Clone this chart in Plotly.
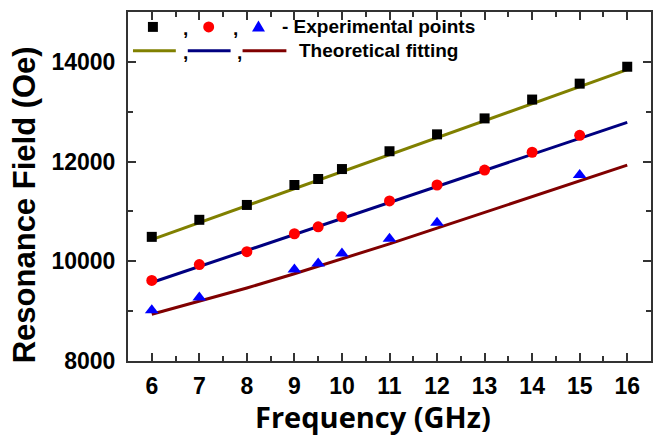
import plotly.graph_objects as go

# Experimental resonance field points (Oe) vs frequency (GHz)
freq_a = [6, 7, 8, 9, 9.5, 10, 11, 12, 13, 14, 15, 16]
field_a = [10490, 10832, 11130, 11530, 11650, 11850, 12207, 12546, 12866, 13244, 13563, 13902]

freq_b = [6, 7, 8, 9, 9.5, 10, 11, 12, 13, 14, 15]
field_b = [9615, 9934, 10193, 10552, 10692, 10891, 11210, 11530, 11829, 12187, 12526]

freq_c = [6, 7, 9, 9.5, 10, 11, 12, 15]
field_c = [9017, 9276, 9835, 9954, 10154, 10453, 10772, 11729]

# Theoretical fitting curves
fit_freq = [6, 7, 8, 9, 10, 11, 12, 13, 14, 15, 16]
fit_a = [10433, 10774, 11115, 11456, 11797, 12138, 12479, 12820, 13161, 13502, 13843]
fit_b = [9575, 9896, 10217, 10538, 10859, 11180, 11501, 11822, 12143, 12464, 12786]
fit_c = [8937, 9195, 9465, 9750, 10045, 10350, 10665, 10985, 11300, 11615, 11929]

x_ticks = list(range(6, 17))
y_ticks = [8000, 10000, 12000, 14000]

OLIVE = "#808000"
NAVY = "#000080"
MAROON = "#800000"
AXIS = "#333333"

W, H = 663, 438
ML, MR, MT, MB = 128, 10, 10, 77
PW, PH = W - ML - MR, H - MT - MB


def px(x):
    return (x - ML) / PW


def py(y):
    return (H - MB - y) / PH


fig = go.Figure()
for xs, ys, col in [(fit_freq, fit_a, OLIVE), (fit_freq, fit_b, NAVY), (fit_freq, fit_c, MAROON)]:
    fig.add_trace(go.Scatter(x=xs, y=ys, mode="lines", line=dict(color=col, width=3),
                             showlegend=False, hoverinfo="skip"))

fig.add_trace(go.Scatter(x=freq_a, y=field_a, mode="markers",
                         marker=dict(symbol="square", size=10, color="black"), showlegend=False))
fig.add_trace(go.Scatter(x=freq_b, y=field_b, mode="markers",
                         marker=dict(symbol="circle", size=11, color="#ff0000"), showlegend=False))
fig.add_trace(go.Scatter(x=freq_c, y=field_c, mode="markers",
                         marker=dict(symbol="triangle-up", size=12, color="#0000ff"), showlegend=False))

# Hand-built key: marker glyphs, line samples, commas and captions
shapes = []
s = 5
shapes.append(dict(type="rect", xref="paper", yref="paper",
                   x0=px(153 - s), x1=px(153 + s), y0=py(25 + s), y1=py(25 - s),
                   fillcolor="black", line=dict(width=0)))
r = 5.5
shapes.append(dict(type="circle", xref="paper", yref="paper",
                   x0=px(209 - r), x1=px(209 + r), y0=py(25 + r), y1=py(25 - r),
                   fillcolor="#ff0000", line=dict(width=0)))
tri = "M {:.4f} {:.4f} L {:.4f} {:.4f} L {:.4f} {:.4f} Z".format(
    px(259), py(18.5), px(265.5), py(29.5), px(252.5), py(29.5))
shapes.append(dict(type="path", xref="paper", yref="paper", path=tri,
                   fillcolor="#0000ff", line=dict(width=0)))
for x0, x1, col in [(133, 176, OLIVE), (188, 231, NAVY), (243, 287, MAROON)]:
    shapes.append(dict(type="line", xref="paper", yref="paper",
                       x0=px(x0), x1=px(x1), y0=py(49), y1=py(49),
                       line=dict(color=col, width=3)))

bold = dict(family="Liberation Sans", size=19, color="black")
ann = []
for cx, cy in [(186, 27), (236, 27), (186, 51), (240, 51)]:
    ann.append(dict(x=px(cx), y=py(cy), xref="paper", yref="paper", text="<b>,</b>",
                    showarrow=False, font=bold, xanchor="center", yanchor="middle"))
ann.append(dict(x=px(281), y=py(25), xref="paper", yref="paper",
                text="<b>- Experimental points</b>", showarrow=False, font=bold,
                xanchor="left", yanchor="middle"))
ann.append(dict(x=px(298), y=py(49), xref="paper", yref="paper",
                text="<b>Theoretical fitting</b>", showarrow=False, font=bold,
                xanchor="left", yanchor="middle"))
ann.append(dict(x=px(374), y=py(417), xref="paper", yref="paper",
                text="<b>Frequency (GHz)</b>", showarrow=False,
                font=dict(family="Open Sans", size=29, color="black"),
                xanchor="center", yanchor="middle"))
ann.append(dict(x=px(25), y=py(204), xref="paper", yref="paper",
                text="<b>Resonance Field (Oe)</b>", showarrow=False, textangle=-90,
                font=dict(family="Liberation Sans", size=31, color="black"),
                xanchor="center", yanchor="middle"))

axis_common = dict(showline=True, linecolor=AXIS, linewidth=2, mirror="ticks",
                   ticks="inside", tickcolor=AXIS, tickwidth=2, ticklen=8,
                   showgrid=False, zeroline=False,
                   tickfont=dict(family="Liberation Sans", size=23, color="black"))

fig.update_layout(
    width=W, height=H,
    margin=dict(l=ML, r=MR, t=MT, b=MB),
    paper_bgcolor="white", plot_bgcolor="white",
    xaxis=dict(range=[5.5, 16.5], tickmode="array", tickvals=x_ticks,
               ticktext=["<b>%d</b>" % v for v in x_ticks],
               minor=dict(ticks="inside", ticklen=5, tickcolor=AXIS, tickwidth=1.5, dtick=0.5,
                          tick0=5.5),
               ticklabelstandoff=3, **axis_common),
    yaxis=dict(range=[8000, 15000], tickmode="array", tickvals=y_ticks,
               ticktext=["<b>%d</b>" % v for v in y_ticks],
               minor=dict(ticks="inside", ticklen=5, tickcolor=AXIS, tickwidth=1.5, dtick=1000,
                          tick0=8000),
               ticklabelstandoff=6, **axis_common),
    shapes=shapes, annotations=ann,
)

fig.write_html("out.html")
